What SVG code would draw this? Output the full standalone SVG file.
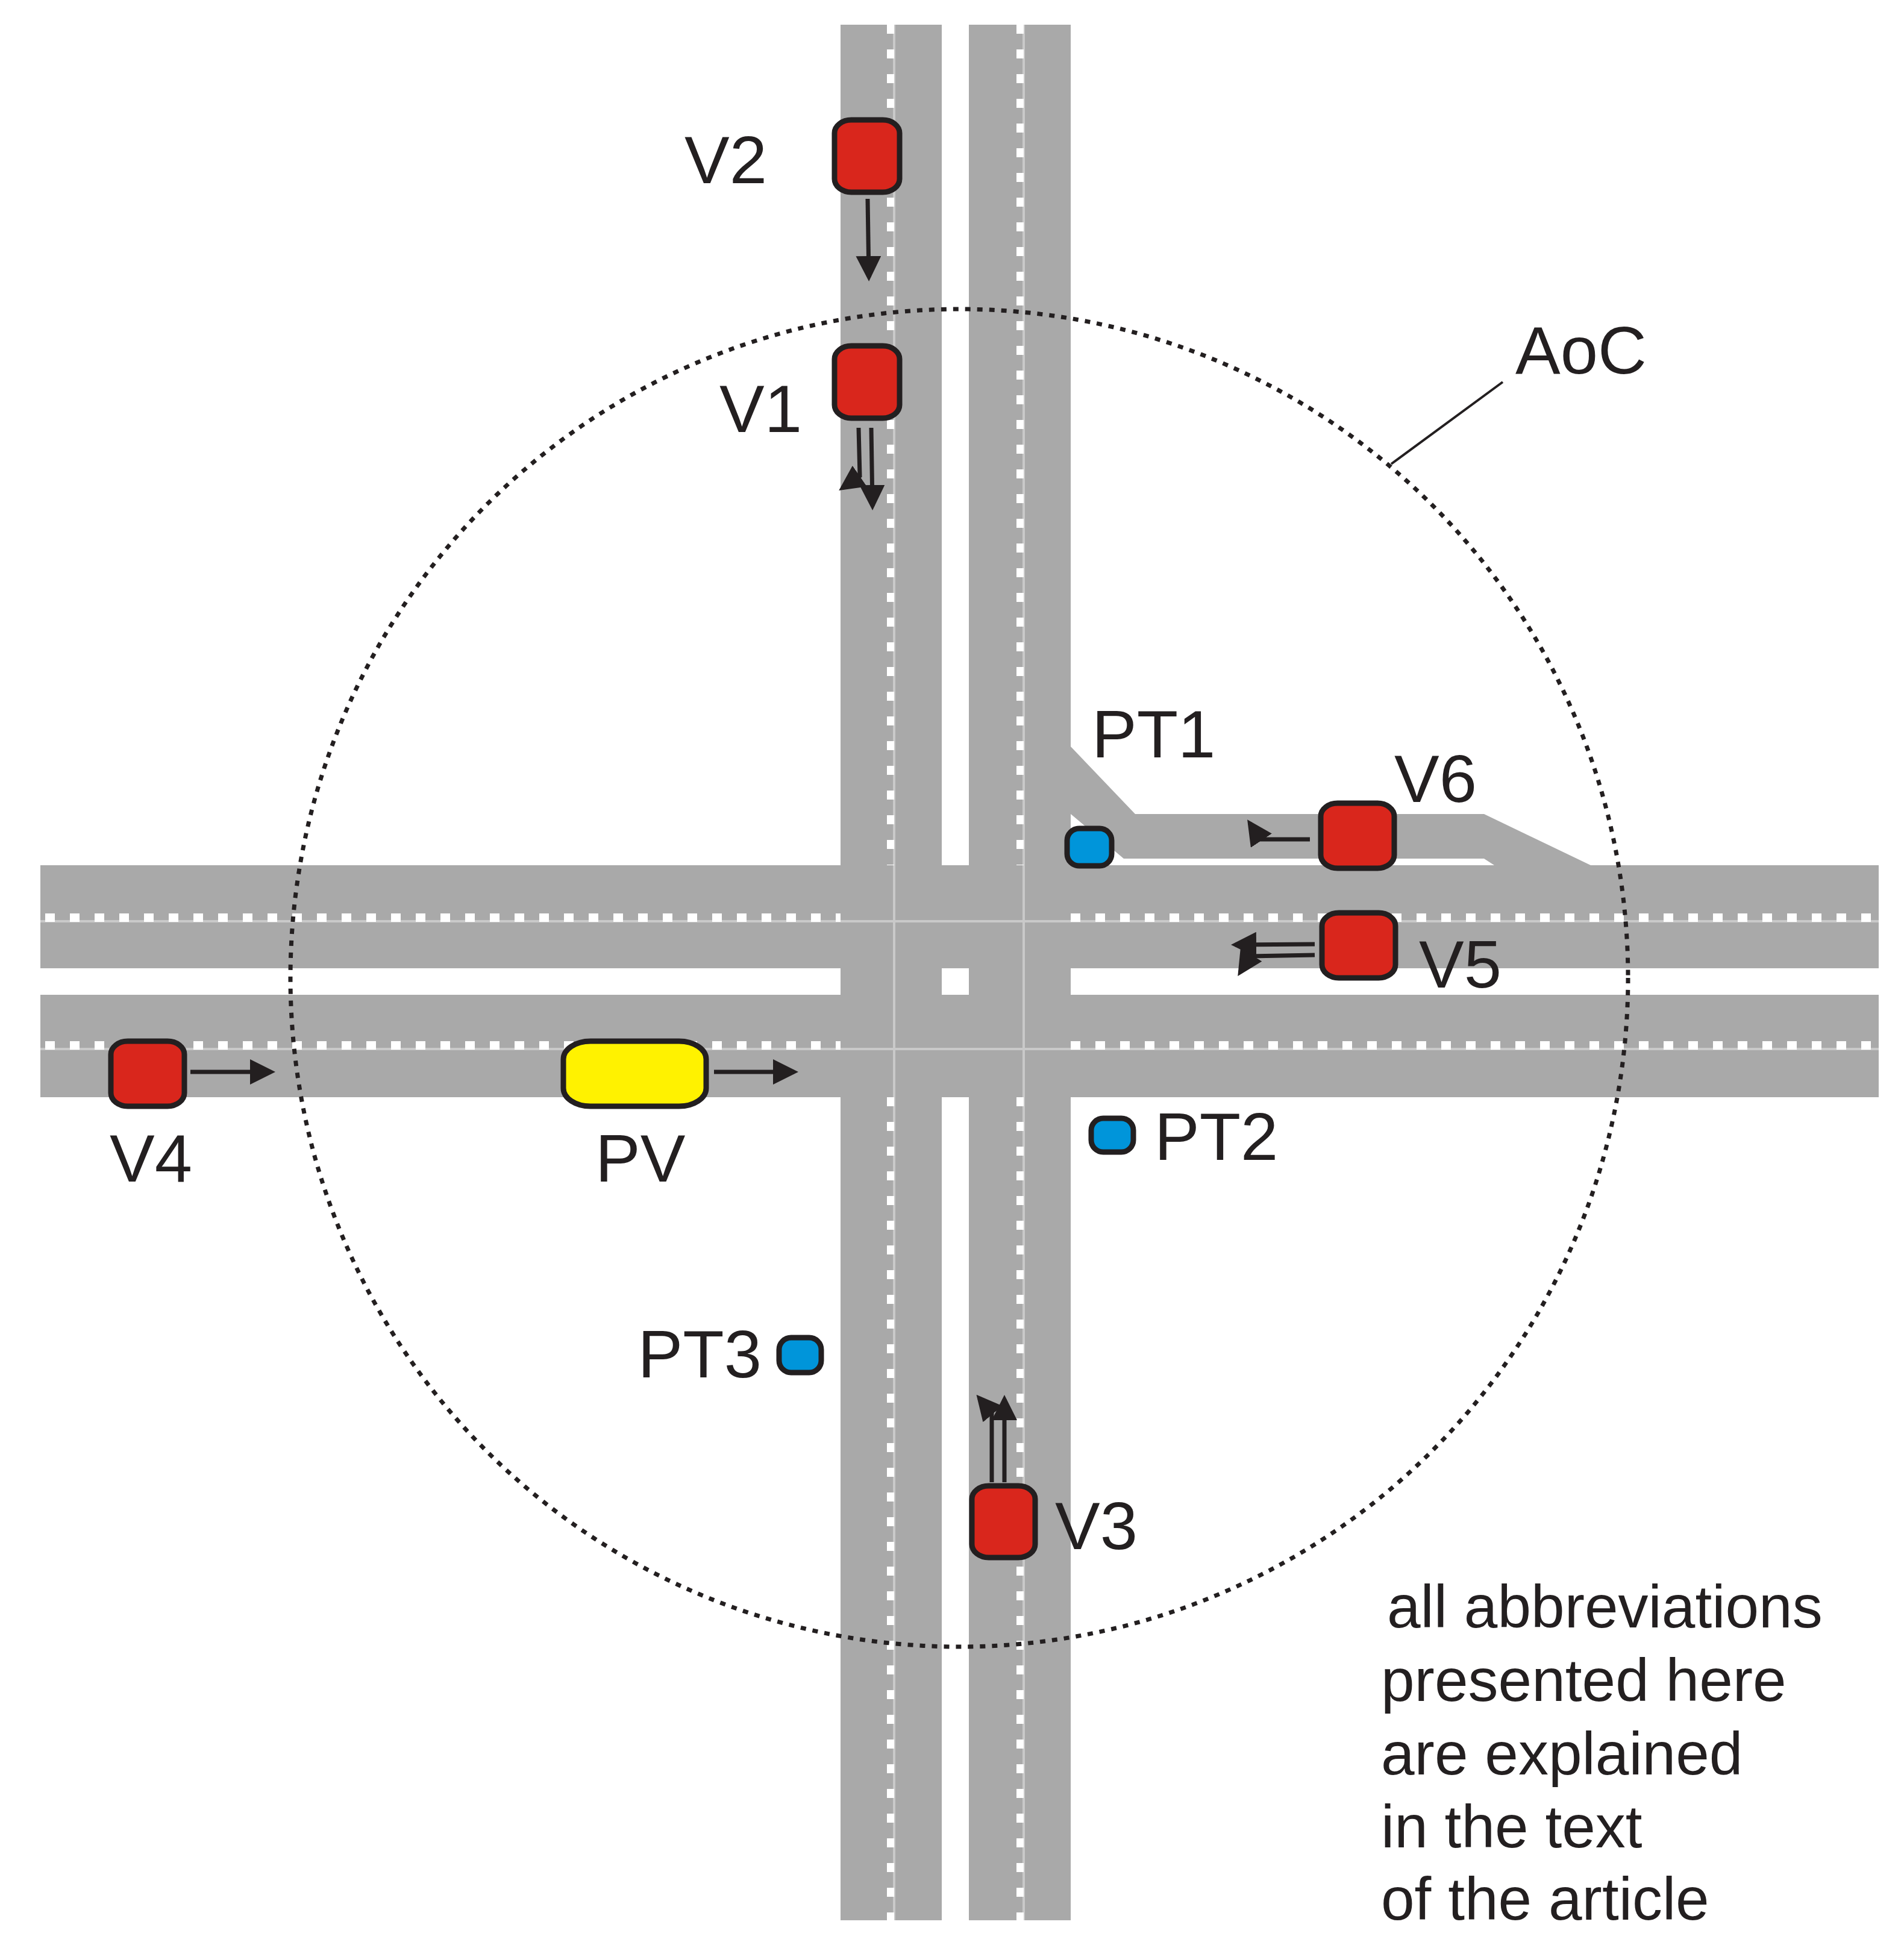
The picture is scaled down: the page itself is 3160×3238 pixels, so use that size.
<svg xmlns="http://www.w3.org/2000/svg" width="3160" height="3238" viewBox="0 0 3160 3238">
<style>
.road{fill:#a9a9a9}
.lane{stroke:#c9c9c9;stroke-width:4;fill:none}
.dh{stroke:#fff;stroke-width:14;stroke-dasharray:16 25;fill:none}
.car{stroke:#231f20;stroke-width:9}
.red{fill:#d9261c}.yel{fill:#fff200}.blue{fill:#0095da}
.arr{stroke:#231f20;stroke-width:7;fill:none;marker-end:url(#ah)}
.t{font-family:"Liberation Sans",Arial,sans-serif;font-size:112px;fill:#231f20}
.t2{font-family:"Liberation Sans",Arial,sans-serif;font-size:100px;fill:#231f20}
</style>
<defs>
<marker id="ah" markerWidth="6" markerHeight="6" refX="5" refY="3" orient="auto" markerUnits="strokeWidth"><path d="M0,0 L6,3 L0,6 Z" fill="#231f20"/></marker>
</defs>
<rect width="3160" height="3238" fill="#fff"/>
<g id="roads">
<rect class="road" x="1395" y="41" width="168" height="3146"/>
<rect class="road" x="1608" y="41" width="169" height="3146"/>
<rect class="road" x="67" y="1436" width="3051" height="171"/>
<rect class="road" x="67" y="1651" width="3051" height="170"/>
<rect fill="#fff" x="1563" y="1607" width="45" height="44"/>
<path class="road" d="M1777,1239 L1884,1351 L2463,1351 L2640,1436 L2480,1436 L2463,1425 L1865,1425 L1777,1351 Z"/>
<g class="lane">
<line x1="1484" y1="41" x2="1484" y2="3187"/><line x1="1699" y1="41" x2="1699" y2="3187"/>
<line x1="67" y1="1529" x2="3118" y2="1529"/><line x1="67" y1="1741" x2="3118" y2="1741"/>
</g>
<g class="dh" style="stroke-width:12;stroke-dasharray:15 26">
<line x1="1478" y1="41" x2="1478" y2="1436"/><line x1="1478" y1="1821" x2="1478" y2="3187"/>
<line x1="1693" y1="41" x2="1693" y2="1436"/><line x1="1693" y1="1821" x2="1693" y2="3187"/>
</g>
<g class="dh">
<line x1="75" y1="1523" x2="1395" y2="1523"/><line x1="1777" y1="1523" x2="3118" y2="1523"/>
<line x1="75" y1="1735" x2="1395" y2="1735"/><line x1="1777" y1="1735" x2="3118" y2="1735"/>
</g>
</g>
<g id="aoc">
<circle cx="1592" cy="1623" r="1110" fill="none" stroke="#231f20" stroke-width="7" stroke-dasharray="9 11"/>
<line x1="2494" y1="634" x2="2309" y2="770" stroke="#231f20" stroke-width="4"/>
<text class="t" x="2515" y="620">AoC</text>
</g>
<g id="V2"><rect class="car red" x="1385" y="199" width="108" height="120" rx="28" ry="22"/><text class="t" x="1136" y="304">V2</text></g>
<g id="V1"><rect class="car red" x="1385" y="574" width="108" height="120" rx="28" ry="22"/><text class="t" x="1194" y="717">V1</text></g>
<g id="V4"><rect class="car red" x="184" y="1728" width="122" height="108" rx="28" ry="22"/><text class="t" x="182" y="1961">V4</text></g>
<g id="PV"><rect class="car yel" x="935" y="1728" width="237" height="108" rx="45" ry="30"/><text class="t" x="988" y="1961">PV</text></g>
<g id="V6"><rect class="car red" x="2192" y="1333" width="122" height="108" rx="28" ry="22"/><text class="t" x="2314" y="1331">V6</text></g>
<g id="V5"><rect class="car red" x="2194" y="1515" width="122" height="108" rx="28" ry="22"/><text class="t" x="2355" y="1639">V5</text></g>
<g id="V3"><rect class="car red" x="1613" y="2466" width="105" height="119" rx="28" ry="22"/><text class="t" x="1751" y="2571">V3</text></g>
<g id="PT1"><rect class="car blue" x="1771" y="1375" width="74" height="62" rx="20"/><text class="t" x="1812" y="1257">PT1</text></g>
<g id="PT2"><rect class="car blue" x="1811" y="1856" width="70" height="56" rx="20"/><text class="t" x="1916" y="1925">PT2</text></g>
<g id="PT3"><rect class="car blue" x="1293" y="2220" width="70" height="58" rx="20"/><text class="t" x="1264" y="2286" text-anchor="end">PT3</text></g>
<g id="connectors">
<line class="arr" x1="1440" y1="330" x2="1442" y2="460"/>
<line class="arr" x1="1446" y1="710" x2="1448" y2="840"/>
<path class="arr" d="M1425,710 L1427,790 L1398,810"/>
<line class="arr" x1="316" y1="1779" x2="450" y2="1779"/>
<line class="arr" x1="1185" y1="1779" x2="1318" y2="1779"/>
<path class="arr" d="M2174,1393 L2092,1393 L2074,1366"/>
<line class="arr" x1="2182" y1="1567" x2="2050" y2="1568"/>
<path class="arr" d="M2182,1585 L2075,1587 L2058,1614"/>
<line class="arr" x1="1667" y1="2460" x2="1667" y2="2322"/>
<path class="arr" d="M1646,2460 L1646,2345 L1625,2320"/>
</g>
<g id="note">
<text class="t2" x="2302" y="2701">all abbreviations</text>
<text class="t2" x="2292" y="2823">presented here</text>
<text class="t2" x="2292" y="2945">are explained</text>
<text class="t2" x="2292" y="3066">in the text</text>
<text class="t2" x="2292" y="3186">of the article</text>
</g>
</svg>
